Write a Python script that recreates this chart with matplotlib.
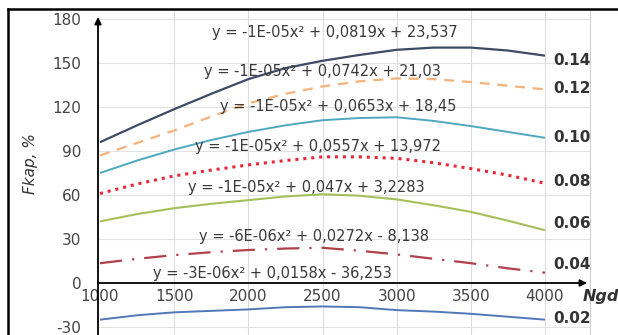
import matplotlib
matplotlib.use("Agg")
import matplotlib.pyplot as plt
from matplotlib.lines import Line2D

plt.rcParams["axes.unicode_minus"] = False

# Data -------------------------------------------------------------------
ngd = [1000, 1250, 1500, 1750, 2000, 2250, 2500, 2750, 3000, 3250, 3500, 3750, 4000]

f_014 = [96, 107.5, 118.5, 129, 139, 146.5, 151.5, 155.5, 159, 160.5, 160.5, 158.5, 155]
f_012 = [87, 95.5, 104, 113.5, 122.5, 129, 134, 137.5, 139.5, 139, 137, 134.5, 132]
f_010 = [75, 83.5, 91, 97.5, 103, 107.5, 111, 112.5, 113, 110.5, 107, 103, 99]
f_008 = [61, 67.5, 73, 77, 80.5, 83.5, 86, 86, 85, 82, 78, 73.5, 68]
f_006 = [42, 47, 51, 54, 56.5, 59, 60.5, 59.5, 57, 53, 48.5, 42.5, 36]
f_004 = [13.5, 16.5, 19, 21, 22.5, 23.5, 24, 22, 19.5, 16.5, 13.5, 10, 7]
f_002 = [-25, -22, -20, -19, -18, -16.5, -16, -16.5, -18.5, -19.5, -21, -23, -25]

series_labels = ["0.14", "0.12", "0.10", "0.08", "0.06", "0.04", "0.02"]
equations = [
    "y = -1E-05x² + 0,0819x + 23,537",
    "y = -1E-05x² + 0,0742x + 21,03",
    "y = -1E-05x² + 0,0653x + 18,45",
    "y = -1E-05x² + 0,0557x + 13,972",
    "y = -1E-05x² + 0,047x + 3,2283",
    "y = -6E-06x² + 0,0272x - 8,138",
    "y = -3E-06x² + 0,0158x - 36,253",
]
x_ticks = [1000, 1500, 2000, 2500, 3000, 3500, 4000]
y_ticks = [-30, 0, 30, 60, 90, 120, 150, 180]

# Figure -----------------------------------------------------------------
W, H = 618, 335
fig = plt.figure(figsize=(W / 100, H / 100), dpi=100)
fig.patch.set_facecolor("white")

# axes box in pixels
left_px, right_px, top_px, bottom_px = 98, 590, 10, 335
ax = fig.add_axes([left_px / W, 1 - bottom_px / H,
                   (right_px - left_px) / W, (bottom_px - top_px) / H])

px_per_x = 445 / 3000.0
px_per_y = 44 / 30.0
x0 = 1000 - (100 - left_px) / px_per_x
x1 = 1000 + (right_px - 100) / px_per_x
y1 = (283 - top_px) / px_per_y
y0 = (283 - bottom_px) / px_per_y
ax.set_xlim(x0, x1)
ax.set_ylim(y0, y1)

for s in ["top", "left", "bottom"]:
    ax.spines[s].set_visible(False)
ax.spines["right"].set_color("#d0d0d0")
ax.spines["right"].set_linewidth(0.8)

# grid
for xv in x_ticks[1:]:
    ax.axvline(xv, color="#dcdcdc", lw=0.8, zorder=0)
for yv in y_ticks:
    if yv != 0:
        ax.axhline(yv, color="#e2e2e2", lw=0.8, zorder=0)

# series
styles = [
    dict(color="#3e4b66", ls="-", lw=1.6),
    dict(color="#f5b27a", ls=(0, (4.5, 3.5)), lw=1.6),
    dict(color="#4fa8bf", ls="-", lw=1.4),
    dict(color="#e8283a", ls=(0, (1, 1.6)), lw=2.2),
    dict(color="#a6bf5a", ls="-", lw=1.5),
    dict(color="#b0404a", ls=(0, (10, 4.5, 1, 4.5)), lw=1.6),
    dict(color="#4f78b8", ls="-", lw=1.4),
]
series = [f_014, f_012, f_010, f_008, f_006, f_004, f_002]
for vals, st in zip(series, styles):
    ax.plot(ngd, vals, zorder=3, solid_capstyle="butt", **st)

# equation labels
eq_pos = [(2584, 170.5), (2497, 144.5), (2605, 120), (2470, 93.4),
          (2389, 64.8), (2443, 31.4), (2160, 6.8)]
for (ex, ey), txt in zip(eq_pos, equations):
    ax.text(ex, ey, txt, ha="center", va="center", fontsize=10.5,
            color="#3a3a3a", zorder=4)

# series tags at the right
tag_y = [152, 132.3, 99.5, 68.9, 40.9, 12.3, -23.9]
for ty, lab in zip(tag_y, series_labels):
    ax.text(4054, ty, lab, ha="left", va="center", fontsize=11,
            fontweight="bold", color="#333333", zorder=4)

# ticks
ax.set_xticks(x_ticks)
ax.set_yticks(y_ticks)
ax.tick_params(axis="both", length=0, labelsize=11, colors="#444444")
ax.tick_params(axis="y", pad=12)
ax.spines["bottom"].set_position(("data", 0))
ax.tick_params(axis="x", pad=4)

# axes with arrows
ax.annotate("", xy=(1000 + 487 / px_per_x, 0), xytext=(x0, 0),
            arrowprops=dict(arrowstyle="-|>", color="black", lw=1.3,
                            mutation_scale=10, shrinkA=0, shrinkB=0),
            zorder=5)
ax.annotate("", xy=(x0, (283 - 17) / px_per_y), xytext=(x0, y0),
            arrowprops=dict(arrowstyle="-|>", color="black", lw=1.3,
                            mutation_scale=10, shrinkA=0, shrinkB=0),
            zorder=5, annotation_clip=False)

fig.text(601 / W, 1 - 297 / H, "Ngd", ha="center", va="center",
         fontsize=11.5, fontweight="bold", style="italic", color="#333333")
fig.text(30 / W, 1 - 164 / H, "Fkap, %", ha="center", va="center",
         rotation=90, fontsize=11, style="italic", color="#333333")

# outer frame (top and left edges)
fig.add_artist(Line2D([8 / W, 1.0], [1 - 8.5 / H, 1 - 8.5 / H],
                      transform=fig.transFigure, color="black", lw=1.8))
fig.add_artist(Line2D([8 / W, 8 / W], [1 - 8.5 / H, 0],
                      transform=fig.transFigure, color="black", lw=1.8))

fig.savefig("out.png", dpi=100)
